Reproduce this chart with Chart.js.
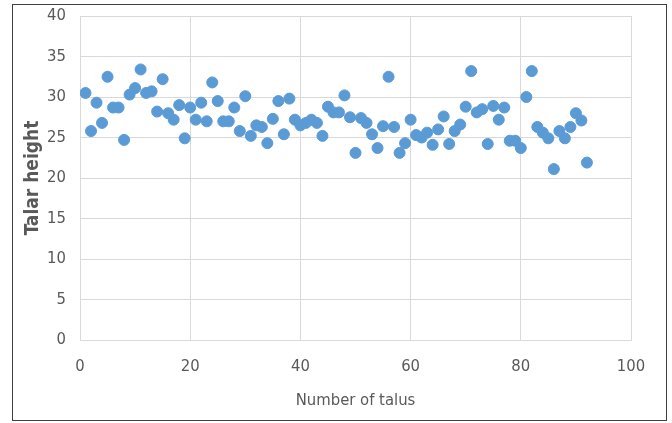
<!DOCTYPE html>
<html>
<head>
<meta charset="utf-8">
<script src="https://cdn.jsdelivr.net/npm/chart.js@4/dist/chart.umd.min.js"></script>
<style>
  html, body { margin:0; padding:0; background:#fff; }
  #wrap { width:672px; height:423px; }
</style>
</head>
<body>
<div id="wrap"><canvas id="chart" width="672" height="423"></canvas></div>
<script>
// talar height for each talus (1..92)
const talarHeight = [
  30.5, 25.8, 29.3, 26.8, 32.5, 28.7, 28.7, 24.7, 30.3, 31.1,
  33.4, 30.5, 30.7, 28.2, 32.2, 28.0, 27.2, 29.0, 24.9, 28.7,
  27.2, 29.3, 27.0, 31.8, 29.5, 27.0, 27.0, 28.7, 25.8, 30.1,
  25.2, 26.5, 26.3, 24.3, 27.3, 29.5, 25.4, 29.8, 27.2, 26.5,
  26.8, 27.2, 26.8, 25.2, 28.8, 28.1, 28.1, 30.2, 27.5, 23.1,
  27.4, 26.8, 25.4, 23.7, 26.4, 32.5, 26.3, 23.1, 24.3, 27.2,
  25.3, 25.0, 25.6, 24.1, 26.0, 27.6, 24.2, 25.8, 26.6, 28.8,
  33.2, 28.1, 28.5, 24.2, 28.9, 27.2, 28.7, 24.6, 24.6, 23.7,
  30.0, 33.2, 26.3, 25.6, 24.9, 21.1, 25.8, 24.9, 26.3, 28.0,
  27.1, 21.9
];
const xTicks = [0, 20, 40, 60, 80, 100];
const yTicks = [0, 5, 10, 15, 20, 25, 30, 35, 40];

const FONT = "'DejaVu Sans Condensed', 'Liberation Sans', sans-serif";
const GRID = '#d9d9d9';
const TEXT = '#595959';

const points = talarHeight.map((v, i) => ({ x: i + 1, y: v }));

// white background + outer frame
const frame = {
  id: 'frame',
  beforeDraw(chart) {
    const c = chart.ctx;
    c.save();
    c.fillStyle = '#fff';
    c.fillRect(0, 0, chart.width, chart.height);
    c.strokeStyle = '#3f3f3f';
    c.lineWidth = 1;
    c.strokeRect(12.5, 4.5, 654, 416);
    c.restore();
  }
};

new Chart(document.getElementById('chart'), {
  type: 'scatter',
  data: {
    datasets: [{
      label: 'Talar height',
      data: points,
      backgroundColor: '#5b9bd5',
      borderColor: '#5b9bd5',
      borderWidth: 1,
      pointRadius: 5.5,
      pointHoverRadius: 5.5
    }]
  },
  options: {
    responsive: false,
    animation: false,
    devicePixelRatio: 1,
    layout: { padding: { left: 0, top: 16, right: 41, bottom: 0 } },
    plugins: { legend: { display: false }, tooltip: { enabled: false } },
    scales: {
      x: {
        type: 'linear', min: 0, max: 100,
        afterBuildTicks: s => { s.ticks = xTicks.map(v => ({ value: v })); },
        afterFit: s => { s.height = 83; s.paddingLeft = 0; s.paddingRight = 0; },
        grid: { color: GRID, drawTicks: false },
        border: { color: GRID },
        ticks: { padding: 17, color: TEXT, font: { family: FONT, size: 16.5 } },
        title: { display: true, text: 'Number of talus', color: TEXT,
                 font: { family: FONT, size: 16.5 }, padding: { top: 0, bottom: 12 } }
      },
      y: {
        type: 'linear', min: 0, max: 40,
        afterBuildTicks: s => { s.ticks = yTicks.map(v => ({ value: v })); },
        afterFit: s => { s.width = 80; s.paddingTop = 0; s.paddingBottom = 0; },
        grid: { color: GRID, drawTicks: false },
        border: { color: GRID },
        ticks: { padding: 14, color: TEXT, font: { family: FONT, size: 16.5 } },
        title: { display: true, text: 'Talar height', color: TEXT,
                 font: { family: FONT, size: 19, weight: 'bold' }, padding: { top: 22, bottom: 0 } }
      }
    }
  },
  plugins: [frame]
});
</script>
</body>
</html>
